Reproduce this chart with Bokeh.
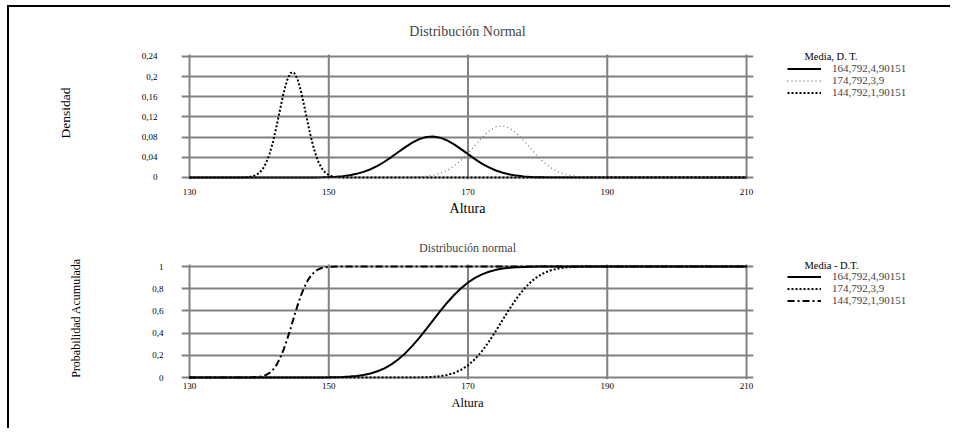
from bokeh.plotting import figure
from bokeh.models import Range1d, FixedTicker, Legend, LegendItem, Label
from bokeh.layouts import column, row
from bokeh.embed import file_html
from bokeh.resources import INLINE

FONT = "Liberation Serif"

# ---- data ----
x_ticks = [130, 150, 170, 190, 210]
dens_ticks = [0, 0.04, 0.08, 0.12, 0.16, 0.2, 0.24]
dens_labels = ["0", "0,04", "0,08", "0,12", "0,16", "0,2", "0,24"]
cdf_ticks = [0, 0.2, 0.4, 0.6, 0.8, 1]
cdf_labels = ["0", "0,2", "0,4", "0,6", "0,8", "1"]

series_labels = ["164,792,4,90151", "174,792,3,9", "144,792,1,90151"]

alt_a = [130, 148, 149, 150, 151, 152, 153, 154, 155, 156, 157, 158, 159, 160,
         161, 162, 163, 164, 165, 166, 167, 168, 169, 170, 171, 172, 173, 174,
         175, 176, 177, 178, 179, 180, 181, 210]
dens_a = [0, 0.0002, 0.0005, 0.0009, 0.0016, 0.0027, 0.0045, 0.0072, 0.0111, 0.0163,
          0.0230, 0.0312, 0.0405, 0.0505, 0.0603, 0.0692, 0.0761, 0.0803, 0.0813,
          0.0790, 0.0735, 0.0657, 0.0563, 0.0463, 0.0365, 0.0276, 0.0200, 0.0139,
          0.0093, 0.0060, 0.0037, 0.0022, 0.0012, 0.0007, 0.0003, 0]
cdf_a = [0, 0.0003, 0.0006, 0.0013, 0.0025, 0.0045, 0.0081, 0.0138, 0.0229, 0.0364,
         0.0560, 0.0829, 0.1187, 0.1641, 0.2196, 0.2845, 0.3573, 0.4358, 0.5169,
         0.5974, 0.6738, 0.7436, 0.8047, 0.8560, 0.8973, 0.9293, 0.9530, 0.9699,
         0.9814, 0.9889, 0.9936, 0.9965, 0.9981, 0.9990, 0.9995, 1]

alt_b = [130, 161, 162, 163, 164, 165, 166, 167, 168, 169, 170, 171, 172, 173, 174,
         175, 176, 177, 178, 179, 180, 181, 182, 183, 184, 185, 186, 187, 188, 189, 210]
dens_b = [0, 0.0002, 0.0005, 0.0011, 0.0022, 0.0044, 0.0081, 0.0139, 0.0225, 0.0340,
          0.0481, 0.0638, 0.0792, 0.0920, 0.1002, 0.1022, 0.0975, 0.0871, 0.0729,
          0.0572, 0.0419, 0.0288, 0.0185, 0.0112, 0.0063, 0.0033, 0.0017, 0.0008,
          0.0003, 0.0001, 0]
cdf_b = [0, 0.0002, 0.0005, 0.0012, 0.0028, 0.0060, 0.0121, 0.0229, 0.0408, 0.0688,
         0.1096, 0.1655, 0.2370, 0.3229, 0.4195, 0.5213, 0.6216, 0.7144, 0.7946,
         0.8597, 0.9091, 0.9443, 0.9677, 0.9823, 0.9909, 0.9956, 0.9980, 0.9991,
         0.9996, 0.9999, 1]

alt_c = [130, 137, 137.5, 138, 138.5, 139, 139.5, 140, 140.5, 141, 141.5, 142, 142.5,
         143, 143.5, 144, 144.5, 145, 145.5, 146, 146.5, 147, 147.5, 148, 148.5,
         149, 149.5, 150, 150.5, 151, 151.5, 152, 210]
dens_c = [0, 0.00005, 0.00013, 0.00036, 0.00088, 0.00203, 0.00436, 0.00876, 0.01642,
          0.02872, 0.04687, 0.07139, 0.10146, 0.13457, 0.16656, 0.19236, 0.20734,
          0.20855, 0.19574, 0.17147, 0.14017, 0.10691, 0.07611, 0.05056, 0.03134,
          0.01813, 0.00979, 0.00493, 0.00232, 0.00102, 0.00042, 0.00016, 0]
cdf_c = [0, 0.00002, 0.00006, 0.0002, 0.0005, 0.0012, 0.0027, 0.0059, 0.0120, 0.0231,
         0.0417, 0.0710, 0.1140, 0.1730, 0.2484, 0.3385, 0.4390, 0.5436, 0.6452,
         0.7374, 0.8155, 0.8772, 0.9228, 0.9542, 0.9744, 0.9866, 0.9934, 0.9969,
         0.9987, 0.9995, 0.9998, 0.9999, 1]

GRID = "#808080"

# top density styles, bottom cumulative styles: (color, width, dash)
dens_styles = [("black", 2, "solid"), ("#777777", 1.3, "1 3"), ("black", 2, "2 2")]
cdf_styles = [("black", 2, "solid"), ("black", 2, "2 2"), ("black", 2, "7 3 2 3")]


def base_fig(height, mbt, mbb, yr, yticks, ylabels, vpad, title, title_size, title_standoff):
    p = figure(width=752, height=height, output_backend="svg", toolbar_location=None,
               x_range=Range1d(128.85, 211.0), y_range=Range1d(*yr),
               min_border_left=172, min_border_right=8,
               min_border_top=mbt, min_border_bottom=mbb)
    p.outline_line_color = None
    p.background_fill_color = "white"
    p.border_fill_color = "white"
    p.title.text = title
    p.title.align = "center"
    p.title.text_font = FONT
    p.title.text_font_size = title_size
    p.title.text_font_style = "normal"
    p.title.standoff = title_standoff
    for ax in (p.xaxis[0], p.yaxis[0]):
        ax.axis_line_color = None
        ax.major_tick_line_color = None
        ax.minor_tick_line_color = None
        ax.major_tick_out = 0
        ax.major_tick_in = 0
        ax.major_label_text_font = FONT
        ax.major_label_text_font_size = "9px"
        ax.major_label_text_color = "black"
        ax.axis_label_text_font = FONT
        ax.axis_label_text_font_style = "normal"
        ax.axis_label_text_color = "black"
    p.xaxis[0].ticker = FixedTicker(ticks=x_ticks)
    p.yaxis[0].ticker = FixedTicker(ticks=yticks)
    p.yaxis[0].major_label_overrides = dict(zip(yticks, ylabels))
    p.xgrid.visible = False
    p.ygrid.grid_line_color = GRID
    p.ygrid.grid_line_width = 2
    # vertical grid lines only between the lowest and highest y tick
    n = len(x_ticks)
    p.segment(x0=x_ticks, x1=x_ticks, y0=[min(yticks) - vpad] * n,
              y1=[max(yticks) + vpad] * n, line_color=GRID, line_width=2)
    return p


def legend_fig(height, xs_list, ys_list, styles, header, header_y, leg_y):
    # the series are drawn again here (outside this panel's visible range) so the
    # legend gets real renderers; only the legend itself is visible
    f = figure(width=189, height=height, output_backend="svg", toolbar_location=None,
               x_range=Range1d(0, 1), y_range=Range1d(0, 1),
               x_axis_location=None, y_axis_location=None,
               min_border=0, min_border_left=0, min_border_right=0,
               min_border_top=0, min_border_bottom=0)
    f.grid.visible = False
    f.outline_line_color = None
    f.background_fill_color = "white"
    f.border_fill_color = "white"
    rs = [f.line(xs, ys, line_color=c, line_width=w, line_dash=d)
          for xs, ys, (c, w, d) in zip(xs_list, ys_list, styles)]
    leg = Legend(items=[LegendItem(label=lab, renderers=[r])
                        for lab, r in zip(series_labels, rs)],
                 location=(26, leg_y), glyph_width=34, glyph_height=11, label_height=11,
                 label_standoff=11, label_text_font=FONT, label_text_font_size="11px",
                 padding=0, margin=0, spacing=0, border_line_color=None,
                 background_fill_alpha=0)
    f.add_layout(leg, "center")
    f.add_layout(Label(x=43, y=header_y, x_units="screen", y_units="screen",
                       text=header, text_font=FONT, text_font_size="10.5px",
                       text_baseline="middle", text_color="black"))
    return f


# ---------------- top: density ----------------
p1 = base_fig(213, 39, 41, (-0.004, 0.2598), dens_ticks, dens_labels, 0.004,
              "Distribución Normal", "14px", 15)
p1.xaxis[0].axis_label = "Altura"
p1.xaxis[0].axis_label_text_font_size = "14px"
p1.xaxis[0].major_label_standoff = 9
p1.xaxis[0].axis_label_standoff = 3
p1.yaxis[0].axis_label = "Densidad"
p1.yaxis[0].axis_label_text_font_size = "13.5px"
p1.yaxis[0].major_label_standoff = 24
p1.yaxis[0].axis_label_standoff = 66

for xs, ys, (c, w, d) in zip([alt_a, alt_b, alt_c], [dens_a, dens_b, dens_c], dens_styles):
    p1.line(xs, ys, line_color=c, line_width=w, line_dash=d)
l1 = legend_fig(213, [alt_a, alt_b, alt_c], [dens_a, dens_b, dens_c], dens_styles,
                "Media,   D. T.", 123, 81)

# ---------------- bottom: cumulative ----------------
p2 = base_fig(208, 36, 49, (-0.018, 1.0901), cdf_ticks, cdf_labels, 0.018,
              "Distribución normal", "12px", 4)
p2.xaxis[0].axis_label = "Altura"
p2.xaxis[0].axis_label_text_font_size = "12.5px"
p2.xaxis[0].major_label_standoff = 3
p2.xaxis[0].axis_label_standoff = 4
p2.yaxis[0].axis_label = "Probabilidad Acumulada"
p2.yaxis[0].axis_label_text_font_size = "12px"
p2.yaxis[0].major_label_standoff = 18
p2.yaxis[0].axis_label_standoff = 66

for xs, ys, (c, w, d) in zip([alt_a, alt_b, alt_c], [cdf_a, cdf_b, cdf_c], cdf_styles):
    p2.line(xs, ys, line_color=c, line_width=w, line_dash=d)
l2 = legend_fig(208, [alt_a, alt_b, alt_c], [cdf_a, cdf_b, cdf_c], cdf_styles,
                "Media -   D.T.", 114, 73)

layout = column(row(p1, l1), row(p2, l2), margin=(5, 0, 0, 7),
                styles={"border-top": "2px solid black",
                        "border-left": "2px solid black"})

open("out.html", "w").write(file_html(layout, INLINE))
